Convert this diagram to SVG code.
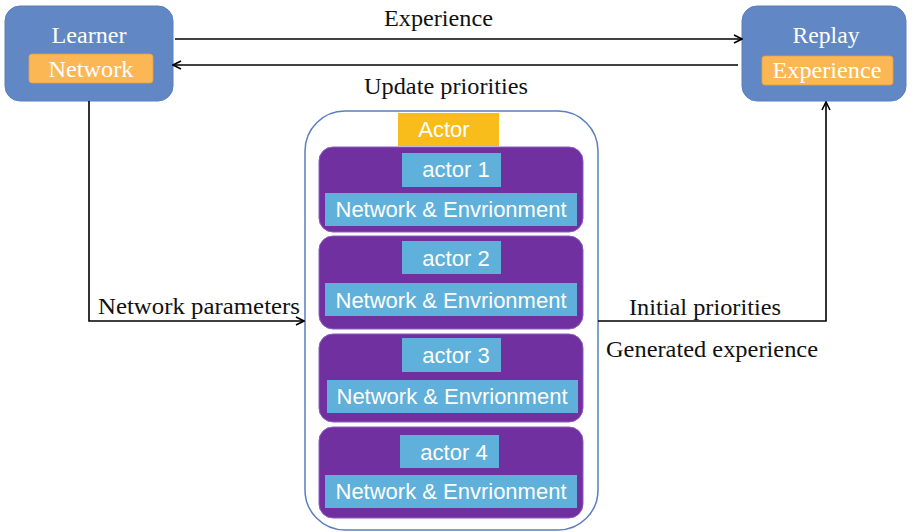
<svg xmlns="http://www.w3.org/2000/svg" width="912" height="532" viewBox="0 0 912 532">
  <defs>
    <marker id="arr" viewBox="0 0 10 10" refX="9" refY="5" markerWidth="10" markerHeight="10" markerUnits="userSpaceOnUse" orient="auto">
      <path d="M1,1 L9,5 L1,9" fill="none" stroke="#000" stroke-width="1.6"/>
    </marker>
    <style>
      .node { fill: #6188c5; stroke: #5a7fbb; stroke-width: 1; }
      .sub { fill: #fbb754; stroke: #e8a040; stroke-width: 0.8; }
      .title { font-family: "Liberation Serif", serif; font-size: 24px; fill: #fff; text-anchor: middle; }
      .lbl { font-family: "Liberation Serif", serif; font-size: 23px; fill: #111; }
      .conn { fill: none; stroke: #000; stroke-width: 1.6; }
      .actor { fill: #7030a0; stroke: #8a5cc0; stroke-width: 1; }
      .cell { fill: #5fb0da; }
      .ctext { font-family: "Liberation Sans", Arial, sans-serif; font-size: 22px; fill: #fff; text-anchor: middle; }
    </style>
  </defs>

  <!-- Learner -->
  <g id="learner">
    <rect class="node" x="5" y="6" width="168" height="95" rx="15"/>
    <text class="title" x="89" y="43" textLength="75" lengthAdjust="spacingAndGlyphs">Learner</text>
    <rect class="sub" x="29" y="54" width="124" height="29" rx="3"/>
    <text class="title" x="91" y="77" textLength="85" lengthAdjust="spacingAndGlyphs">Network</text>
  </g>

  <!-- Replay -->
  <g id="replay">
    <rect class="node" x="742" y="6" width="164" height="95" rx="15"/>
    <text class="title" x="826" y="43" textLength="67" lengthAdjust="spacingAndGlyphs">Replay</text>
    <rect class="sub" x="762" y="56" width="131" height="29" rx="3"/>
    <text class="title" x="827" y="78" textLength="109" lengthAdjust="spacingAndGlyphs">Experience</text>
  </g>

  <!-- Actor pool -->
  <g id="actor-pool">
    <rect x="305" y="111" width="293" height="419" rx="40" fill="#fff" stroke="#5a7fbf" stroke-width="1.5"/>
    <rect x="398" y="113" width="101" height="33" fill="#f8bc1b"/>
    <text class="ctext" x="444" y="137">Actor</text>
  </g>

  <g id="actor1">
    <rect class="actor" x="319" y="147" width="264" height="85" rx="14"/>
    <rect class="cell" x="402" y="153" width="99" height="34"/>
    <text class="ctext" x="456" y="177">actor 1</text>
    <rect class="cell" x="325" y="193" width="252" height="33"/>
    <text class="ctext" x="451" y="217" textLength="231" lengthAdjust="spacingAndGlyphs">Network &amp; Envrionment</text>
  </g>

  <g id="actor2">
    <rect class="actor" x="319" y="236" width="264" height="93" rx="14"/>
    <rect class="cell" x="402" y="241" width="99" height="33"/>
    <text class="ctext" x="456" y="266">actor 2</text>
    <rect class="cell" x="325" y="283" width="252" height="33"/>
    <text class="ctext" x="451" y="308" textLength="231" lengthAdjust="spacingAndGlyphs">Network &amp; Envrionment</text>
  </g>

  <g id="actor3">
    <rect class="actor" x="319" y="334" width="264" height="88" rx="14"/>
    <rect class="cell" x="402" y="338" width="99" height="34"/>
    <text class="ctext" x="456" y="363">actor 3</text>
    <rect class="cell" x="327" y="380" width="251" height="33"/>
    <text class="ctext" x="452" y="404" textLength="231" lengthAdjust="spacingAndGlyphs">Network &amp; Envrionment</text>
  </g>

  <g id="actor4">
    <rect class="actor" x="319" y="427" width="264" height="91" rx="14"/>
    <rect class="cell" x="400" y="435" width="99" height="33"/>
    <text class="ctext" x="454" y="460">actor 4</text>
    <rect class="cell" x="325" y="475" width="252" height="33"/>
    <text class="ctext" x="451" y="499" textLength="231" lengthAdjust="spacingAndGlyphs">Network &amp; Envrionment</text>
  </g>

  <!-- Connectors -->
  <g id="connectors">
    <line class="conn" x1="175" y1="39" x2="742" y2="39" marker-end="url(#arr)"/>
    <line class="conn" x1="738" y1="65" x2="173" y2="65" marker-end="url(#arr)"/>
    <polyline class="conn" points="89,101 89,321 304,321" marker-end="url(#arr)"/>
    <polyline class="conn" points="598,321 826,321 826,102" marker-end="url(#arr)"/>
  </g>

  <!-- Connector labels -->
  <g id="labels">
    <text class="lbl" x="384" y="26" textLength="109" lengthAdjust="spacingAndGlyphs">Experience</text>
    <text class="lbl" x="364" y="94" textLength="164" lengthAdjust="spacingAndGlyphs">Update priorities</text>
    <text class="lbl" x="98" y="314" textLength="202" lengthAdjust="spacingAndGlyphs">Network parameters</text>
    <text class="lbl" x="629" y="315" textLength="152" lengthAdjust="spacingAndGlyphs">Initial priorities</text>
    <text class="lbl" x="606" y="357" textLength="212" lengthAdjust="spacingAndGlyphs">Generated experience</text>
  </g>
</svg>
